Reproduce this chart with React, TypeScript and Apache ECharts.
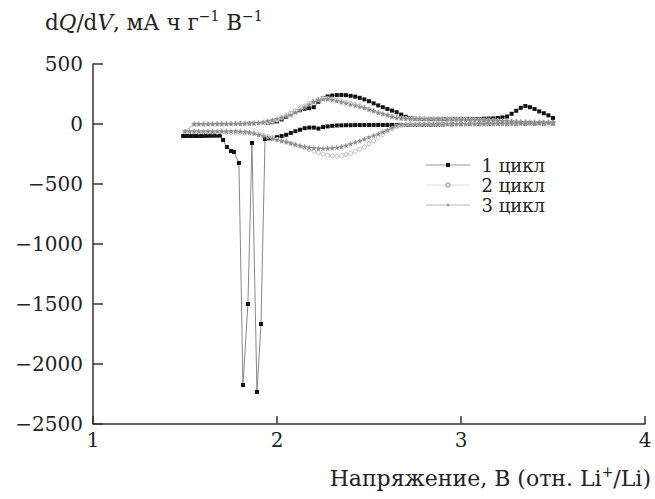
import React, { useEffect, useRef } from "react";
import * as echarts from "echarts";

// Voltage grid (V), shared by cycles 2, 3 and the charge branch of cycle 1
const volts = [
  1.5, 1.525, 1.55, 1.575, 1.6, 1.625, 1.65, 1.675, 1.7, 1.725,
  1.75, 1.775, 1.8, 1.825, 1.85, 1.875, 1.9, 1.925, 1.95, 1.975,
  2.0, 2.025, 2.05, 2.075, 2.1, 2.125, 2.15, 2.175, 2.2, 2.225,
  2.25, 2.275, 2.3, 2.325, 2.35, 2.375, 2.4, 2.425, 2.45, 2.475,
  2.5, 2.525, 2.55, 2.575, 2.6, 2.625, 2.65, 2.675, 2.7, 2.725,
  2.75, 2.775, 2.8, 2.825, 2.85, 2.875, 2.9, 2.925, 2.95, 2.975,
  3.0, 3.025, 3.05, 3.075, 3.1, 3.125, 3.15, 3.175, 3.2, 3.225,
  3.25, 3.275, 3.3, 3.325, 3.35, 3.375, 3.4, 3.425, 3.45, 3.475,
  3.5,
];

// Cycle 1, discharge branch [V, dQ/dV]
const cycle1Down: [number, number][] = [
  [1.49, -100], [1.51, -100], [1.53, -100], [1.55, -100], [1.57, -100], [1.59, -100],
  [1.61, -99], [1.63, -98], [1.65, -98], [1.67, -97], [1.69, -97],
  [1.707, -133], [1.728, -192], [1.75, -225], [1.766, -233], [1.793, -325],
  [1.815, -2175], [1.842, -1500], [1.864, -158], [1.891, -2233], [1.913, -1667],
  [1.935, -125], [1.955, -120], [1.975, -117], [2.0, -110], [2.025, -100],
  [2.05, -90], [2.075, -75], [2.1, -60], [2.125, -48], [2.15, -35], [2.175, -30],
  [2.2, -30], [2.225, -38], [2.25, -25], [2.275, -20], [2.3, -15], [2.325, -12],
  [2.35, -11], [2.375, -10], [2.4, -10], [2.425, -9], [2.45, -9], [2.475, -8],
  [2.5, -8], [2.525, -8], [2.55, -8], [2.575, -8], [2.6, -8], [2.625, -8],
  [2.65, -8], [2.675, -8], [2.7, -8], [2.725, -8], [2.75, -8], [2.775, -7],
  [2.8, -7], [2.825, -6], [2.85, -6], [2.875, -5], [2.9, -4], [2.95, -2],
  [3.0, 0], [3.05, 1], [3.1, 2], [3.15, 2], [3.2, 3], [3.25, 3], [3.3, 4],
  [3.35, 4], [3.4, 5], [3.45, 5], [3.5, 5],
];

// Cycle 1, charge branch on the grid
const cycle1Up = [
  null, null, null, null, null, null, null, null, null, null,
  null, null, null, null, null, null, null, null, 10, 15,
  22, 38, 60, 88, 105, 115, 127, 132, 140, 185,
  215, 230, 237, 241, 242, 240, 235, 228, 218, 205,
  190, 172, 155, 140, 125, 112, 98, 78, 60, 50,
  45, 43, 42, 42, 42, 42, 42, 42, 42, 42,
  42, 42, 42, 42, 42, 44, 45, 47, 50, 55,
  62, 85, 110, 135, 150, 140, 125, 105, 90, 72,
  50,
];

// Cycle 2
const cycle2Down = [
  -65, -65, -65, -66, -66, -67, -67, -68, -68, -69,
  -70, -70, -71, -72, -74, -77, -82, -90, -102, -115,
  -128, -138, -148, -160, -172, -185, -198, -212, -225, -238,
  -250, -260, -266, -268, -264, -256, -245, -228, -210, -190,
  -165, -140, -112, -88, -62, -40, -20, -10, -6, -5,
  -5, -4, -3, -3, -3, -2, -2, -1, -1, 0,
  0, 0, 1, 1, 2, 2, 2, 3, 3, 4,
  4, 5, 5, 6, 7, 8, 8, 9, 9, 10,
  10,
];
const cycle2Up = [
  null, null, 0, 0, 0, 1, 1, 2, 2, 3,
  3, 4, 4, 5, 6, 8, 10, 12, 15, 22,
  33, 50, 70, 92, 110, 128, 150, 173, 192, 205,
  215, 213, 208, 200, 190, 182, 172, 162, 150, 138,
  125, 110, 95, 83, 72, 62, 53, 48, 46, 45,
  45, 44, 44, 43, 43, 42, 42, 41, 40, 40,
  39, 38, 37, 36, 35, 33, 32, 30, 28, 26,
  24, 22, 20, 18, 17, 16, 16, 15, 15, 15,
  15,
];

// Cycle 3
const cycle3Down = [
  -60, -60, -60, -60, -60, -60, -60, -60, -60, -60,
  -60, -60, -61, -64, -68, -78, -90, -100, -110, -120,
  -130, -140, -150, -160, -170, -180, -188, -195, -200, -202,
  -203, -202, -200, -195, -188, -178, -165, -152, -140, -125,
  -110, -95, -80, -65, -50, -30, -12, -6, -4, -3,
  -3, -2, -2, -2, -1, -1, -1, 0, 0, 0,
  0, 1, 1, 1, 2, 2, 3, 3, 4, 4,
  5, 5, 6, 6, 7, 7, 8, 8, 9, 9,
  10,
];
const cycle3Up = [
  null, null, 0, 0, 0, 1, 1, 2, 2, 2,
  3, 3, 4, 5, 6, 8, 10, 15, 25, 33,
  45, 55, 65, 78, 98, 118, 140, 162, 185, 200,
  207, 208, 202, 193, 183, 173, 164, 155, 145, 135,
  122, 110, 97, 86, 75, 63, 53, 48, 46, 45,
  44, 44, 43, 43, 42, 42, 41, 41, 40, 40,
  39, 38, 37, 36, 35, 34, 32, 31, 29, 27,
  25, 23, 21, 19, 18, 17, 16, 16, 15, 15,
  15,
];

const legendNames = ["1 цикл", "2 цикл", "3 цикл"];
const legendLineColors = ["#999", "#ddd", "#bbb"];
const xTicks = { min: 1, max: 4, interval: 1 };
const yTicks = { min: -2500, max: 500, interval: 500 };

const FONT = "'DejaVu Serif', serif";
const STAR =
  "path://M50,0 L61,35 L98,35 L68,57 L79,91 L50,70 L21,91 L32,57 L2,35 L39,35 Z";

function zipGrid(vals: (number | null)[]): [number, number][] {
  const out: [number, number][] = [];
  vals.forEach((y, i) => {
    if (y !== null && y !== undefined) out.push([volts[i], y]);
  });
  return out;
}

export default function App() {
  const ref = useRef<HTMLDivElement>(null);

  useEffect(() => {
    if (!ref.current) return;
    const chart = echarts.init(ref.current, undefined, { renderer: "svg" });

    const c1Down = cycle1Down.slice().reverse();
    const c1Up = zipGrid(cycle1Up);
    const c2 = zipGrid(cycle2Down).reverse().concat(zipGrid(cycle2Up));
    const c3 = zipGrid(cycle3Down).reverse().concat(zipGrid(cycle3Up));

    const minus = (v: number) => String(v).replace("-", "\u2212");

    const base = {
      type: "line" as const,
      showSymbol: true,
      showAllSymbol: true,
      smooth: false,
      clip: false,
    };

    chart.setOption({
      animation: false,
      backgroundColor: "#fff",
      grid: { left: 93, top: 64, width: 552, height: 360, containLabel: false },
      xAxis: {
        type: "value",
        min: xTicks.min,
        max: xTicks.max,
        interval: xTicks.interval,
        axisLine: { onZero: false, lineStyle: { color: "#333", width: 1.5 } },
        axisTick: { inside: true, length: 8, lineStyle: { color: "#333", width: 1.5 } },
        splitLine: { show: false },
        axisLabel: {
          fontFamily: FONT,
          fontSize: 20,
          color: "#222",
          margin: 6,
          formatter: minus,
        },
      },
      yAxis: {
        type: "value",
        min: yTicks.min,
        max: yTicks.max,
        interval: yTicks.interval,
        axisLine: { show: true, onZero: false, lineStyle: { color: "#333", width: 1.5 } },
        axisTick: { show: true, inside: true, length: 10, lineStyle: { color: "#333", width: 1.5 } },
        splitLine: { show: false },
        axisLabel: {
          fontFamily: FONT,
          fontSize: 20,
          color: "#222",
          margin: 10,
          formatter: minus,
        },
      },
      legend: {
        orient: "vertical",
        left: 420,
        top: 150,
        itemWidth: 45,
        itemHeight: 5,
        itemGap: 0,
        data: legendNames.map((name, i) => ({
          name,
          lineStyle: { color: legendLineColors[i], width: 1 },
        })),
        textStyle: {
          fontFamily: FONT,
          fontSize: 18,
          color: "#222",
          lineHeight: 20,
          padding: [0, 0, 0, 6],
        },
      },
      graphic: [
        {
          type: "text",
          left: 45,
          top: 9,
          style: {
            text: "d{i|Q}/d{i|V}, мА ч г{sup|\u22121} В{sup|\u22121}",
            fontFamily: FONT,
            fontSize: 21.5,
            lineHeight: 27,
            fill: "#222",
            rich: {
              i: { fontStyle: "italic", fontFamily: FONT, fontSize: 21.5, lineHeight: 27 },
              sup: { fontFamily: FONT, fontSize: 14, lineHeight: 14, verticalAlign: "top" },
            },
          },
        },
        {
          type: "text",
          right: 4,
          top: 465,
          style: {
            text: "Напряжение, В (отн. Li{sup|+}/Li)",
            fontFamily: FONT,
            fontSize: 22,
            lineHeight: 27,
            fill: "#222",
            rich: {
              sup: { fontFamily: FONT, fontSize: 14, lineHeight: 14, verticalAlign: "top" },
            },
          },
        },
      ],
      series: [
        {
          ...base,
          name: legendNames[0],
          data: c1Down,
          symbol: "rect",
          symbolSize: 4,
          itemStyle: { color: "#111" },
          lineStyle: { color: "#888", width: 1 },
          z: 2,
        },
        {
          ...base,
          name: legendNames[0],
          data: c1Up,
          symbol: "rect",
          symbolSize: 4,
          itemStyle: { color: "#111" },
          lineStyle: { color: "#888", width: 1 },
          z: 2,
        },
        {
          ...base,
          name: legendNames[1],
          data: c2,
          symbol: "circle",
          symbolSize: 4,
          itemStyle: { color: "#fff", borderColor: "#bbb", borderWidth: 1 },
          lineStyle: { color: "#ddd", width: 1 },
          z: 3,
        },
        {
          ...base,
          name: legendNames[2],
          data: c3,
          symbol: STAR,
          symbolSize: 6,
          itemStyle: { color: "#8c8c8c" },
          lineStyle: { color: "#bbb", width: 1 },
          z: 4,
        },
      ],
    });

    return () => chart.dispose();
  }, []);

  return (
    <div
      ref={ref}
      style={{ position: "absolute", left: 0, top: 0, width: 655, height: 499 }}
    />
  );
}
